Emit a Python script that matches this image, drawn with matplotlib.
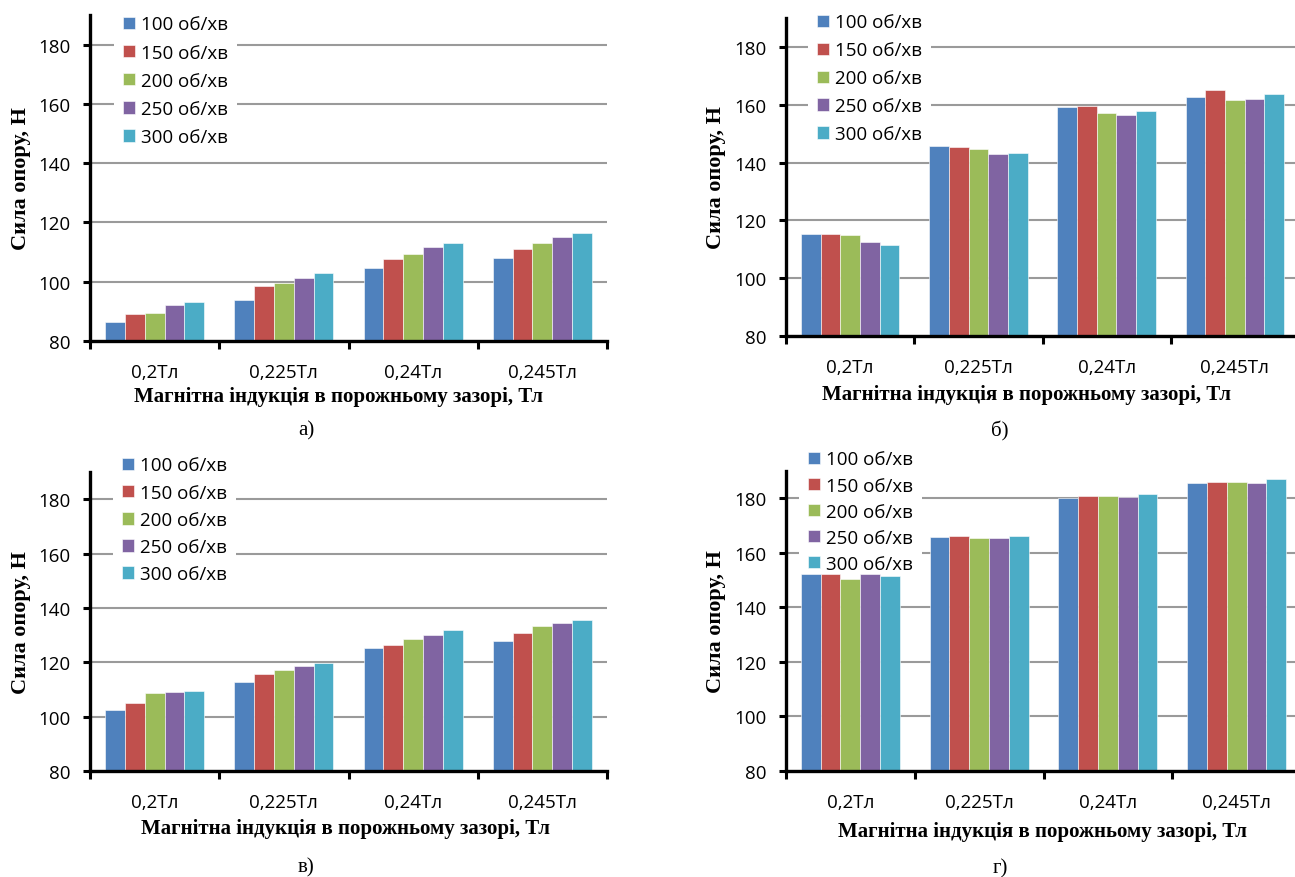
import matplotlib.pyplot as plt
import numpy as np

categories = ['0,2Тл', '0,225Тл', '0,24Тл', '0,245Тл']
speeds = ['100 об/хв', '150 об/хв', '200 об/хв', '250 об/хв', '300 об/хв']
colors = ['#4F81BD', '#C0504D', '#9BBB59', '#8064A2', '#4BACC6']

# rows = speed, columns = induction
force_a = [[86.3, 93.8, 104.8, 107.9],
           [89.1, 98.5, 107.6, 111.2],
           [89.5, 99.6, 109.3, 112.9],
           [92.3, 101.3, 111.7, 115.0],
           [93.1, 102.9, 113.0, 116.4]]

force_b = [[115.3, 145.6, 159.2, 162.6],
           [115.2, 145.4, 159.5, 165.1],
           [114.8, 144.7, 157.1, 161.6],
           [112.4, 143.0, 156.4, 161.9],
           [111.4, 143.2, 157.7, 163.6]]

force_c = [[102.6, 112.8, 125.1, 127.7],
           [105.2, 115.7, 126.5, 130.8],
           [108.6, 117.0, 128.7, 133.2],
           [109.0, 118.5, 130.2, 134.3],
           [109.6, 119.7, 131.8, 135.4]]

force_d = [[152.2, 165.9, 180.2, 185.6],
           [152.2, 166.2, 180.7, 186.1],
           [150.4, 165.3, 180.9, 186.1],
           [152.2, 165.3, 180.4, 185.7],
           [151.4, 166.2, 181.7, 186.9]]

ylabel = 'Сила опору, Н'
xlabel = 'Магнітна індукція в порожньому зазорі, Тл'

W, H = 1295, 878
fig = plt.figure(figsize=(W / 100, H / 100), dpi=100)

sans = ['Open Sans', 'DejaVu Sans']
serif = ['Liberation Serif', 'DejaVu Serif']
fs = 13.5


def px(x, y):
    return x / W, 1 - y / H


def panel(box, data, leg_xy, spacing, ylab_x, xlab_xy, letter, letter_xy):
    l, t, r, b = box
    ax = fig.add_axes([l / W, 1 - b / H, (r - l) / W, (b - t) / H])
    x = np.arange(len(categories)) + 0.5
    w = 0.1535
    for j, vals in enumerate(data):
        ax.bar(x + (j - 2) * w, vals, width=w, color=colors[j],
               edgecolor='white', linewidth=0.4, label=speeds[j])
    ax.set_xlim(0, 4)
    ax.set_ylim(80, 190)
    ax.set_yticks(np.arange(80, 181, 20))
    ax.set_xticks(x)
    ax.set_xticklabels(categories)
    ax.set_xticks(np.arange(0, 5), minor=True)
    ax.tick_params(axis='x', which='major', length=0, pad=16)
    ax.tick_params(axis='x', which='minor', length=6, width=2.2, direction='out')
    ax.tick_params(axis='y', length=5, width=2.2, direction='out', pad=9)
    for lab in ax.get_xticklabels() + ax.get_yticklabels():
        lab.set_family(sans)
        lab.set_fontsize(fs)
    for s in ['top', 'right']:
        ax.spines[s].set_visible(False)
    for s in ['left', 'bottom']:
        ax.spines[s].set_linewidth(2.4)
    ax.set_axisbelow(True)
    ax.yaxis.grid(True, color='#9a9a9a', linewidth=1.5)
    leg = ax.legend(loc='upper left', bbox_to_anchor=px(*leg_xy),
                    bbox_transform=fig.transFigure, frameon=True,
                    facecolor='white', edgecolor='none', framealpha=1,
                    fancybox=False, borderpad=0.5, borderaxespad=0,
                    handlelength=0.65, handleheight=0.65, handletextpad=0.3,
                    labelspacing=spacing, prop={'family': sans, 'size': fs})
    leg.set_zorder(0.8)
    fig.text(*px(ylab_x, (t + b) / 2), ylabel, rotation=90, ha='center',
             va='center', family=serif, weight='bold', fontsize=16)
    fig.text(*px(*xlab_xy), xlabel, ha='center', va='center',
             family=serif, weight='bold', fontsize=15)
    fig.text(*px(*letter_xy), letter, ha='center', va='center',
             family=serif, fontsize=15)
    return ax


panel((90, 16, 607, 342), force_a, (113.6, 7.1), 0.54, 21, (339, 397), 'а)', (306, 431))
panel((786, 19, 1299, 337), force_b, (807.6, 5.1), 0.53, 716, (1027, 395), 'б)', (1000, 431))
panel((90, 473, 607, 772), force_c, (112.6, 448.1), 0.49, 21, (345, 829), 'в)', (306, 868))
panel((786, 472, 1301, 772), force_d, (798.6, 442.1), 0.43, 716, (1042, 832), 'г)', (1000, 869))

fig.savefig('out.png', dpi=100)
